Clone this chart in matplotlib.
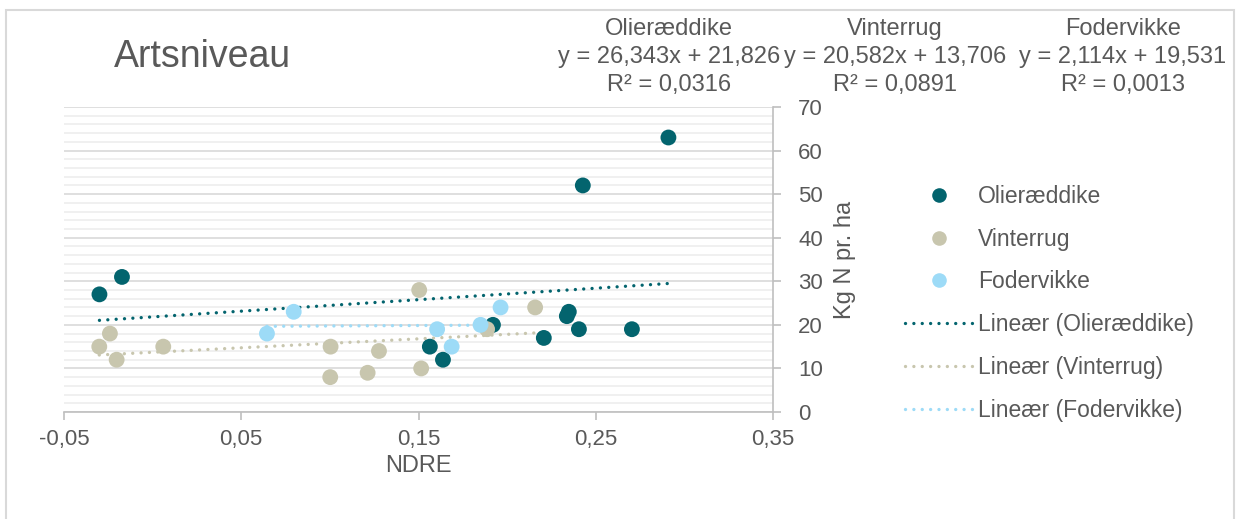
import matplotlib.pyplot as plt
import numpy as np
from matplotlib.patches import Rectangle
from matplotlib.lines import Line2D

plt.rcParams['font.family'] = ['Liberation Sans', 'DejaVu Sans']

# Data: NDRE vs. kg N pr. ha
navne = ['Olieræddike', 'Vinterrug', 'Fodervikke']
farver = ['#03646e', '#c8c6ae', '#9ddbf7']

olie_x = [-0.030, -0.0173, 0.1564, 0.1638, 0.192, 0.2207, 0.2337, 0.2348, 0.2405, 0.2427, 0.2704, 0.291]
olie_y = [27, 31, 15, 12, 20, 17, 22, 23, 19, 52, 19, 63]

vinter_x = [-0.0301, -0.0241, -0.0203, 0.006, 0.1004, 0.1002, 0.1213, 0.1277, 0.1504, 0.1515, 0.1887, 0.2158]
vinter_y = [15, 18, 12, 15, 15, 8, 9, 14, 28, 10, 19, 24]

foder_x = [0.0645, 0.0796, 0.1605, 0.1687, 0.185, 0.1963]
foder_y = [18, 23, 19, 15, 20, 24]

# Trendlinjer (hældning, skæring, R²)
haeldning = [26.343, 20.582, 2.114]
skaering = [21.826, 13.706, 19.531]
r2 = ['0,0316', '0,0891', '0,0013']

xs = [olie_x, vinter_x, foder_x]
ys = [olie_y, vinter_y, foder_y]

tekst = '#595959'
prik = (0, (0.01, 2.5))

fig = plt.figure(figsize=(12.36, 5.19), dpi=100)
ax = fig.add_axes([64/1236, 1 - 412/519, (773-64)/1236, (412-107)/519])

for x, y, c, n in zip(xs, ys, farver, navne):
    ax.scatter(x, y, s=130, color=c, edgecolors='none', zorder=3, label=n)

for x, a, b, c in zip(xs, haeldning, skaering, farver):
    xl = np.array([min(x), max(x)])
    ax.plot(xl, a * xl + b, linestyle=prik, color=c, lw=2.4,
            dash_capstyle='round', zorder=2)

ax.set_xlim(-0.05, 0.35)
ax.set_ylim(0, 70)
ax.set_xticks([-0.05, 0.05, 0.15, 0.25, 0.35])
ax.set_xticklabels(['-0,05', '0,05', '0,15', '0,25', '0,35'])
ax.set_yticks(range(0, 71, 10))
ax.set_yticks(range(0, 71, 2), minor=True)
ax.yaxis.tick_right()
ax.yaxis.set_label_position('right')
ax.grid(True, axis='y', which='major', color='#d9d9d9', lw=1.2)
ax.grid(True, axis='y', which='minor', color='#eeeeee', lw=1.2)
ax.set_axisbelow(True)
for s in ['top', 'left']:
    ax.spines[s].set_visible(False)
for s in ['bottom', 'right']:
    ax.spines[s].set_color('#bfbfbf')
    ax.spines[s].set_linewidth(1.2)
ax.tick_params(axis='both', which='major', colors='#bfbfbf', labelcolor=tekst,
               labelsize=16, length=6, width=1.2)
ax.tick_params(axis='y', which='minor', length=0)
ax.tick_params(axis='y', pad=12)
ax.tick_params(axis='x', pad=6)
ax.set_xlabel('NDRE', fontsize=17, color=tekst, labelpad=4)
ax.set_ylabel('Kg N pr. ha', fontsize=17, color=tekst, labelpad=8)

fig.text(202/1236, 1 - 57/519, 'Artsniveau', fontsize=27, color=tekst,
         ha='center', va='center')

# Ligninger for trendlinjerne
cx = [669, 895, 1123]
for i in range(3):
    a = f'{haeldning[i]:.3f}'.replace('.', ',')
    b = f'{skaering[i]:.3f}'.replace('.', ',')
    blok = navne[i] + '\ny = ' + a + 'x + ' + b + '\nR² = ' + r2[i]
    fig.text(cx[i]/1236, 1 - 57/519, blok, fontsize=17, color=tekst,
             ha='center', va='center', multialignment='center', linespacing=1.38)

handles = [Line2D([], [], marker='o', ls='none', ms=10.5, color=c, markeredgecolor='none') for c in farver]
handles += [Line2D([], [], ls=prik, lw=2.4, color=c, dash_capstyle='round') for c in farver]
labels = navne + ['Lineær (' + n + ')' for n in navne]
fig.legend(handles, labels, loc='upper left', bbox_to_anchor=(905/1236, 1 - 185/519),
           frameon=False, fontsize=16.5, labelcolor=tekst, handlelength=3.0,
           handletextpad=0.2, labelspacing=0.86, borderpad=0, borderaxespad=0)

fig.patches.append(Rectangle((6/1236, -0.05), 1228/1236, 1.05 - 10/519, transform=fig.transFigure,
                             fill=False, edgecolor='#d9d9d9', lw=1.5))

fig.savefig('out.png', dpi=100)
